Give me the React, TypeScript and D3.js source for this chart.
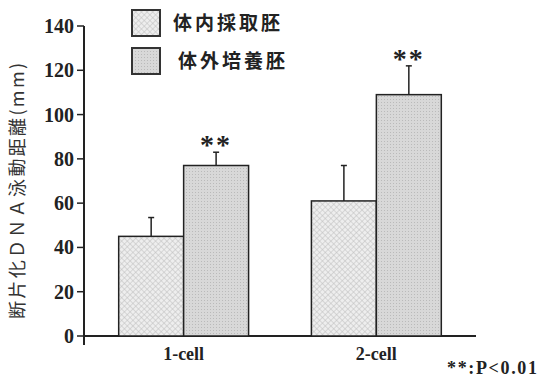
import React from "react";
import * as d3 from "d3";

const categories = ["1-cell", "2-cell"];
const seriesNames = ["体内採取胚", "体外培養胚"];
const invivoValues = [45, 61];
const invivoErrors = [8.5, 16];
const invitroValues = [77, 109];
const invitroErrors = [6, 13];
const signif = ["**", "**"];
const yTicks = [0, 20, 40, 60, 80, 100, 120, 140];

export default function App() {
  const W = 539, H = 377;
  const y = d3.scaleLinear().domain([0, 140]).range([336, 26]);
  const x0 = d3.scaleBand().domain(categories).range([84, 476]).paddingInner(0.326).paddingOuter(0.18);
  const x1 = d3.scaleBand().domain(["in", "out"]).range([0, x0.bandwidth()]);
  const series = [
    { key: "in", values: invivoValues, errs: invivoErrors, fill: "url(#hatch)" },
    { key: "out", values: invitroValues, errs: invitroErrors, fill: "url(#dots)" },
  ];
  const serif = "'Liberation Serif', 'DejaVu Serif', serif";
  const cjk = "'Noto Sans CJK JP', sans-serif";
  return (
    <svg width={W} height={H} style={{ position: "absolute", left: 0, top: 0, background: "#fff" }}>
      <defs>
        <pattern id="hatch" width="4" height="4" patternUnits="userSpaceOnUse" patternTransform="rotate(45)">
          <rect width="4" height="4" fill="#eeeeee" />
          <line x1="0" y1="0" x2="0" y2="4" stroke="#bdbdbd" strokeWidth="1" />
          <line x1="0" y1="0" x2="4" y2="0" stroke="#bdbdbd" strokeWidth="1" />
        </pattern>
        <pattern id="dots" width="3" height="3" patternUnits="userSpaceOnUse">
          <rect width="3" height="3" fill="#d8d8d8" />
          <rect width="1" height="1" fill="#bababa" />
        </pattern>
      </defs>
      {/* y axis */}
      <line x1={84} y1={y(140)} x2={84} y2={345} stroke="#222" strokeWidth={2} />
      {yTicks.map((t) => (
        <g key={t}>
          <line x1={77} x2={84} y1={y(t)} y2={y(t)} stroke="#222" strokeWidth={1.5} />
          <text x={74} y={y(t)} dy="0.35em" textAnchor="end" fontFamily={serif} fontWeight="bold" fontSize={20} fill="#222">{t}</text>
        </g>
      ))}
      {/* x axis */}
      <line x1={84} x2={476} y1={y(0)} y2={y(0)} stroke="#222" strokeWidth={2} />
      {categories.map((c, i) => (
        <g key={c}>
          {series.map((s) => {
            const bx = (x0(c) as number) + (x1(s.key) as number);
            const bw = x1.bandwidth();
            const top = y(s.values[i]);
            const et = y(s.values[i] + s.errs[i]);
            return (
              <g key={s.key}>
                <rect x={bx} y={top} width={bw} height={y(0) - top} fill={s.fill} stroke="#222" strokeWidth={1.5} />
                <line x1={bx + bw / 2} x2={bx + bw / 2} y1={top} y2={et} stroke="#222" strokeWidth={1.5} />
                <line x1={bx + bw / 2 - 3} x2={bx + bw / 2 + 3} y1={et} y2={et} stroke="#222" strokeWidth={1.5} />
                {s.key === "out" && (
                  <text x={bx + bw / 2} y={et + 2} textAnchor="middle" fontFamily={serif} fontWeight="bold" fontSize={28} fill="#222" letterSpacing={2}>{signif[i]}</text>
                )}
              </g>
            );
          })}
          <text x={(x0(c) as number) + x0.bandwidth() / 2} y={360} textAnchor="middle" fontFamily={serif} fontWeight="bold" fontSize={18} fill="#222">{c}</text>
        </g>
      ))}
      {/* legend */}
      {seriesNames.map((n, i) => (
        <g key={n}>
          <rect x={132} y={10 + i * 38} width={28} height={26} fill={i === 0 ? "url(#hatch)" : "url(#dots)"} stroke="#333" strokeWidth={2} />
          <text x={173 + i * 5} y={23 + i * 38} dy="0.35em" fontFamily={cjk} fontWeight="bold" fontSize={19} textLength={107} lengthAdjust="spacing" fill="#222">{n}</text>
        </g>
      ))}
      {/* y title */}
      <text transform="translate(24,191) rotate(-90)" textAnchor="middle" fontFamily={cjk} fontSize={18} textLength={256} lengthAdjust="spacing" fill="#333">断片化ＤＮＡ泳動距離(mm)</text>
      <text x={537} y={374} textAnchor="end" fontFamily={serif} fontWeight="bold" fontSize={18} textLength={90} lengthAdjust="spacing" fill="#222">**:P&lt;0.01</text>
    </svg>
  );
}
